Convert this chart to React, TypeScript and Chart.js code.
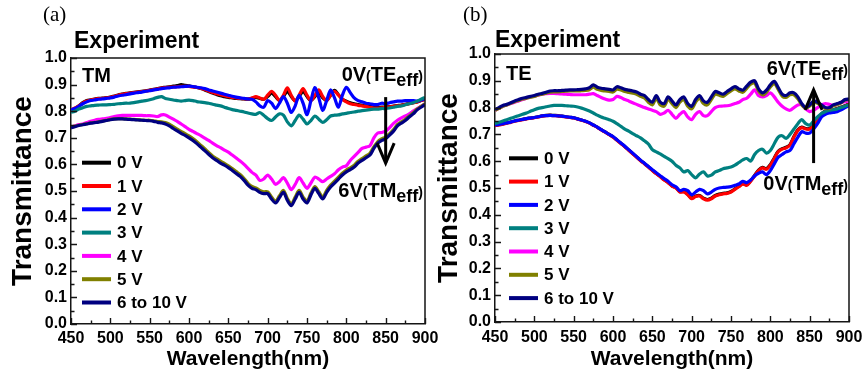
import React, { useEffect, useRef } from 'react';
import { Chart, registerables } from 'chart.js';

Chart.register(...registerables);

const FONT = '"Liberation Sans", Arial, sans-serif';
const SERIF = '"Liberation Serif", "Times New Roman", serif';

// ---------- data ----------
const WAVELENGTH = [
  450, 455, 460, 465, 470, 475, 480, 485, 490, 495,
  500, 505, 510, 515, 520, 525, 530, 535, 540, 545,
  550, 555, 560, 565, 570, 575, 580, 585, 590, 595,
  600, 605, 610, 615, 620, 625, 630, 635, 640, 645,
  650, 655, 660, 665, 670, 675, 680, 685, 690, 695,
  700, 705, 710, 715, 720, 725, 730, 735, 740, 745,
  750, 755, 760, 765, 770, 775, 780, 785, 790, 795,
  800, 805, 810, 815, 820, 825, 830, 835, 840, 845,
  850, 855, 860, 865, 870, 875, 880, 885, 890, 895,
  900,
];

const SERIES_LABELS = ['0 V', '1 V', '2 V', '3 V', '4 V', '5 V', '6 to 10 V'];
const SERIES_COLORS = ['#000000', '#ff0000', '#0000ff', '#008080', '#ff00ff', '#808000', '#000080'];

// Panel (a) TM
const TM_0V = [
  0.8, 0.81, 0.82, 0.832, 0.84, 0.843, 0.846, 0.848, 0.849, 0.851,
  0.853, 0.857, 0.861, 0.864, 0.867, 0.869, 0.871, 0.873, 0.875, 0.877,
  0.879, 0.882, 0.885, 0.888, 0.89, 0.892, 0.894, 0.896, 0.9, 0.897,
  0.895, 0.892, 0.889, 0.885, 0.88, 0.874, 0.868, 0.863, 0.858, 0.855,
  0.852, 0.85, 0.848, 0.847, 0.846, 0.845, 0.848, 0.852, 0.848, 0.845,
  0.855, 0.868, 0.855, 0.84, 0.855, 0.875, 0.855, 0.84, 0.855, 0.875,
  0.855, 0.84, 0.855, 0.87, 0.85, 0.84, 0.86, 0.878, 0.862, 0.845,
  0.838, 0.832, 0.828, 0.825, 0.822, 0.82, 0.818, 0.816, 0.815, 0.815,
  0.816, 0.817, 0.819, 0.821, 0.823, 0.826, 0.829, 0.832, 0.835, 0.84,
  0.844,
];
const TM_1V = [
  0.805, 0.812, 0.82, 0.83, 0.838, 0.842, 0.845, 0.847, 0.848, 0.85,
  0.852, 0.856, 0.86, 0.863, 0.866, 0.868, 0.87, 0.872, 0.874, 0.876,
  0.878, 0.881, 0.884, 0.887, 0.889, 0.89, 0.891, 0.892, 0.893, 0.893,
  0.893, 0.891, 0.889, 0.886, 0.882, 0.876, 0.87, 0.866, 0.862, 0.858,
  0.855, 0.852, 0.85, 0.848, 0.847, 0.846, 0.85, 0.855, 0.85, 0.845,
  0.86, 0.875, 0.86, 0.84, 0.86, 0.888, 0.86, 0.838, 0.86, 0.885,
  0.86, 0.84, 0.86, 0.88, 0.855, 0.84, 0.86, 0.875, 0.86, 0.845,
  0.835, 0.828, 0.825, 0.822, 0.82, 0.818, 0.815, 0.812, 0.812, 0.813,
  0.815, 0.816, 0.818, 0.82, 0.822, 0.825, 0.828, 0.832, 0.835, 0.84,
  0.845,
];
const TM_2V = [
  0.805, 0.81, 0.818, 0.828, 0.835, 0.84, 0.842, 0.845, 0.846, 0.848,
  0.85, 0.853, 0.857, 0.86, 0.862, 0.865, 0.868, 0.87, 0.872, 0.875,
  0.877, 0.88, 0.882, 0.885, 0.887, 0.888, 0.89, 0.891, 0.892, 0.893,
  0.894, 0.893, 0.89, 0.888, 0.885, 0.88, 0.876, 0.872, 0.868, 0.864,
  0.86, 0.856, 0.853, 0.85, 0.848, 0.846, 0.845, 0.835, 0.82, 0.815,
  0.84, 0.83, 0.81, 0.83, 0.855, 0.83, 0.795, 0.82, 0.86, 0.83,
  0.787, 0.84, 0.889, 0.85, 0.803, 0.84, 0.88, 0.85, 0.815, 0.86,
  0.89, 0.87, 0.85, 0.84, 0.835, 0.83, 0.828, 0.825, 0.825, 0.83,
  0.828, 0.832, 0.835, 0.838, 0.838, 0.84, 0.84, 0.84, 0.838, 0.842,
  0.848,
];
const TM_3V = [
  0.796, 0.8, 0.808, 0.813, 0.818, 0.82, 0.822, 0.823, 0.824, 0.824,
  0.825, 0.826, 0.828, 0.829, 0.83, 0.83, 0.832, 0.835, 0.838, 0.84,
  0.843, 0.847, 0.852, 0.855, 0.848, 0.845, 0.842, 0.84, 0.838, 0.84,
  0.842, 0.84, 0.836, 0.834, 0.832, 0.83, 0.826, 0.823, 0.82, 0.815,
  0.81, 0.806, 0.803, 0.8, 0.797, 0.793, 0.79, 0.788, 0.795, 0.785,
  0.772, 0.765, 0.778, 0.79, 0.785, 0.76, 0.745, 0.765, 0.785, 0.77,
  0.752, 0.765, 0.782, 0.77, 0.758, 0.768, 0.782, 0.785, 0.786, 0.79,
  0.792, 0.795, 0.797, 0.8, 0.802, 0.804, 0.806, 0.808, 0.808, 0.81,
  0.81, 0.812, 0.815, 0.818, 0.82, 0.824, 0.828, 0.832, 0.838, 0.845,
  0.852,
];
const TM_4V = [
  0.74, 0.745, 0.75, 0.752, 0.757, 0.762, 0.766, 0.769, 0.771, 0.773,
  0.776, 0.78, 0.783, 0.784, 0.784, 0.784, 0.784, 0.784, 0.784, 0.783,
  0.783, 0.782, 0.78, 0.786, 0.786, 0.778, 0.77, 0.762, 0.752, 0.742,
  0.732, 0.724, 0.716, 0.708, 0.699, 0.69, 0.68, 0.671, 0.663, 0.654,
  0.646, 0.635, 0.624, 0.613, 0.6, 0.585, 0.57, 0.56, 0.54, 0.545,
  0.56, 0.545, 0.525, 0.535, 0.55, 0.53, 0.505, 0.525, 0.55, 0.53,
  0.51, 0.53, 0.552, 0.545, 0.535, 0.545, 0.555, 0.565, 0.58, 0.59,
  0.595, 0.615, 0.63, 0.645, 0.66, 0.665, 0.67, 0.7, 0.718, 0.72,
  0.725, 0.738, 0.754, 0.766, 0.775, 0.782, 0.79, 0.8, 0.81, 0.818,
  0.828,
];
const TM_5V = [
  0.738, 0.743, 0.747, 0.75, 0.753, 0.756, 0.758, 0.76, 0.763, 0.766,
  0.769, 0.771, 0.772, 0.772, 0.771, 0.77, 0.769, 0.768, 0.767, 0.766,
  0.766, 0.764, 0.761, 0.76, 0.757, 0.751, 0.742, 0.733, 0.724, 0.716,
  0.707, 0.697, 0.685, 0.672, 0.659, 0.645, 0.632, 0.622, 0.612, 0.604,
  0.595, 0.584, 0.573, 0.562, 0.547, 0.529, 0.517, 0.512, 0.502, 0.497,
  0.497, 0.477, 0.462, 0.482, 0.502, 0.472, 0.452, 0.477, 0.502, 0.477,
  0.462, 0.492, 0.517, 0.497, 0.477, 0.502, 0.522, 0.537, 0.552, 0.567,
  0.579, 0.587, 0.597, 0.612, 0.622, 0.632, 0.642, 0.666, 0.686, 0.696,
  0.703, 0.716, 0.731, 0.75, 0.76, 0.77, 0.782, 0.794, 0.808, 0.818,
  0.828,
];
const TM_6V = [
  0.737, 0.742, 0.746, 0.749, 0.752, 0.755, 0.757, 0.759, 0.762, 0.765,
  0.768, 0.77, 0.771, 0.771, 0.77, 0.769, 0.768, 0.767, 0.766, 0.765,
  0.764, 0.762, 0.758, 0.756, 0.752, 0.745, 0.735, 0.726, 0.717, 0.709,
  0.7, 0.69, 0.678, 0.665, 0.652, 0.638, 0.625, 0.615, 0.605, 0.597,
  0.588, 0.577, 0.566, 0.555, 0.54, 0.522, 0.51, 0.505, 0.495, 0.49,
  0.49, 0.47, 0.455, 0.475, 0.495, 0.465, 0.445, 0.47, 0.495, 0.47,
  0.455, 0.485, 0.51, 0.49, 0.47, 0.495, 0.515, 0.53, 0.545, 0.56,
  0.572, 0.58, 0.59, 0.605, 0.615, 0.625, 0.635, 0.66, 0.68, 0.69,
  0.697, 0.71, 0.725, 0.745, 0.755, 0.765, 0.778, 0.79, 0.805, 0.815,
  0.825,
];

// Panel (b) TE
const TE_0V = [
  0.734, 0.736, 0.739, 0.743, 0.746, 0.75, 0.753, 0.756, 0.759, 0.761,
  0.763, 0.766, 0.769, 0.771, 0.772, 0.771, 0.77, 0.768, 0.766, 0.764,
  0.762, 0.758, 0.754, 0.749, 0.743, 0.735, 0.727, 0.718, 0.709, 0.7,
  0.691, 0.679, 0.667, 0.655, 0.642, 0.629, 0.616, 0.603, 0.591, 0.579,
  0.566, 0.554, 0.543, 0.531, 0.521, 0.508, 0.501, 0.487, 0.487, 0.477,
  0.462, 0.47, 0.472, 0.462, 0.457, 0.462, 0.472, 0.477, 0.48, 0.482,
  0.487, 0.497, 0.507, 0.517, 0.512, 0.527, 0.547, 0.567, 0.577, 0.572,
  0.587, 0.612, 0.637, 0.647, 0.652, 0.662, 0.692, 0.717, 0.727, 0.722,
  0.722, 0.737, 0.757, 0.777, 0.787, 0.787, 0.792, 0.797, 0.802, 0.807,
  0.814,
];
const TE_1V = [
  0.733, 0.735, 0.738, 0.742, 0.745, 0.749, 0.752, 0.755, 0.758, 0.76,
  0.762, 0.765, 0.768, 0.77, 0.771, 0.77, 0.769, 0.767, 0.765, 0.763,
  0.761, 0.757, 0.753, 0.748, 0.742, 0.734, 0.726, 0.717, 0.708, 0.699,
  0.69, 0.678, 0.666, 0.654, 0.641, 0.628, 0.615, 0.602, 0.59, 0.578,
  0.565, 0.553, 0.542, 0.53, 0.52, 0.507, 0.5, 0.485, 0.485, 0.475,
  0.46, 0.468, 0.47, 0.46, 0.455, 0.46, 0.47, 0.475, 0.478, 0.48,
  0.485, 0.495, 0.505, 0.515, 0.51, 0.525, 0.545, 0.565, 0.575, 0.57,
  0.585, 0.61, 0.635, 0.645, 0.65, 0.66, 0.69, 0.715, 0.725, 0.72,
  0.72, 0.735, 0.755, 0.775, 0.785, 0.785, 0.79, 0.795, 0.8, 0.805,
  0.812,
];
const TE_2V = [
  0.735, 0.737, 0.74, 0.743, 0.746, 0.75, 0.753, 0.756, 0.759, 0.761,
  0.763, 0.766, 0.769, 0.77, 0.771, 0.77, 0.769, 0.768, 0.766, 0.764,
  0.762, 0.758, 0.754, 0.749, 0.743, 0.735, 0.727, 0.718, 0.709, 0.7,
  0.692, 0.68, 0.668, 0.656, 0.643, 0.63, 0.617, 0.604, 0.592, 0.58,
  0.568, 0.557, 0.546, 0.535, 0.525, 0.512, 0.505, 0.49, 0.495, 0.49,
  0.475, 0.485, 0.495, 0.49, 0.478, 0.485, 0.495, 0.5, 0.502, 0.503,
  0.505, 0.51, 0.515, 0.525, 0.52, 0.53, 0.545, 0.555, 0.56, 0.55,
  0.565, 0.59, 0.615, 0.625, 0.635, 0.64, 0.665, 0.69, 0.71, 0.705,
  0.705, 0.72, 0.74, 0.765, 0.775, 0.78, 0.782, 0.785, 0.792, 0.8,
  0.808,
];
const TE_3V = [
  0.74, 0.745, 0.75, 0.755, 0.76, 0.765, 0.77, 0.775, 0.78, 0.786,
  0.792, 0.797, 0.8, 0.803, 0.806, 0.808, 0.808, 0.808, 0.807, 0.806,
  0.805, 0.802, 0.798, 0.793, 0.787, 0.78, 0.772, 0.765, 0.76, 0.755,
  0.749, 0.74, 0.73, 0.72, 0.712, 0.703, 0.695, 0.687, 0.676, 0.664,
  0.643, 0.635, 0.627, 0.618, 0.61, 0.6, 0.585, 0.575, 0.56, 0.565,
  0.55, 0.538, 0.552, 0.56, 0.545, 0.548, 0.56, 0.565, 0.572, 0.575,
  0.578, 0.585, 0.595, 0.605, 0.61, 0.6, 0.625, 0.64, 0.645, 0.63,
  0.64, 0.665, 0.69, 0.695, 0.685, 0.7, 0.72, 0.74, 0.755, 0.74,
  0.735, 0.75, 0.765, 0.778, 0.785, 0.79, 0.792, 0.795, 0.8, 0.805,
  0.81,
];
const TE_4V = [
  0.79, 0.797, 0.805, 0.81, 0.815, 0.82, 0.825, 0.83, 0.835, 0.84,
  0.843, 0.846, 0.85, 0.852, 0.853, 0.853, 0.852, 0.851, 0.85, 0.849,
  0.848, 0.848, 0.848, 0.848, 0.85, 0.852, 0.845, 0.838, 0.832, 0.828,
  0.83, 0.842, 0.838, 0.83, 0.825, 0.818, 0.812, 0.806, 0.8, 0.795,
  0.79, 0.785, 0.775, 0.78, 0.79, 0.775, 0.76, 0.775, 0.785, 0.765,
  0.755, 0.775, 0.785, 0.77, 0.77, 0.785, 0.8, 0.805, 0.806, 0.807,
  0.81, 0.815, 0.82, 0.83, 0.835, 0.85, 0.866, 0.845, 0.84, 0.845,
  0.855, 0.84, 0.82, 0.805, 0.795, 0.79, 0.8, 0.81, 0.81, 0.795,
  0.785, 0.79, 0.8, 0.81, 0.815, 0.812, 0.808, 0.812, 0.818, 0.822,
  0.825,
];
const TE_5V = [
  0.79, 0.797, 0.805, 0.81, 0.816, 0.822, 0.827, 0.832, 0.835, 0.839,
  0.842, 0.847, 0.85, 0.854, 0.858, 0.859, 0.859, 0.86, 0.861, 0.862,
  0.862, 0.862, 0.863, 0.864, 0.867, 0.876, 0.868, 0.864, 0.862, 0.86,
  0.858, 0.869, 0.866, 0.86, 0.857, 0.854, 0.85, 0.842, 0.836, 0.82,
  0.81, 0.835, 0.81, 0.805, 0.83, 0.815, 0.8, 0.82, 0.83, 0.805,
  0.795, 0.82, 0.835, 0.815, 0.81, 0.83, 0.85, 0.846, 0.842, 0.852,
  0.862, 0.87, 0.862, 0.857, 0.872, 0.887, 0.892, 0.862, 0.847, 0.857,
  0.877, 0.89, 0.868, 0.843, 0.838, 0.848, 0.848, 0.833, 0.81, 0.797,
  0.806, 0.82, 0.816, 0.806, 0.797, 0.797, 0.807, 0.812, 0.818, 0.828,
  0.83,
];
const TE_6V = [
  0.793, 0.8, 0.808, 0.812, 0.818, 0.825, 0.83, 0.835, 0.838, 0.842,
  0.845, 0.85, 0.853, 0.857, 0.862, 0.863, 0.863, 0.864, 0.865, 0.866,
  0.866, 0.867, 0.868, 0.87, 0.874, 0.885, 0.876, 0.872, 0.87, 0.868,
  0.866, 0.878, 0.874, 0.868, 0.865, 0.862, 0.858, 0.85, 0.845, 0.83,
  0.82, 0.845, 0.82, 0.815, 0.84, 0.825, 0.81, 0.83, 0.84, 0.815,
  0.805, 0.83, 0.845, 0.825, 0.82, 0.84, 0.86, 0.855, 0.85, 0.86,
  0.87, 0.878, 0.87, 0.865, 0.88, 0.895, 0.9, 0.87, 0.855, 0.865,
  0.885, 0.898, 0.875, 0.85, 0.845, 0.855, 0.855, 0.84, 0.815, 0.8,
  0.81, 0.825, 0.82, 0.81, 0.8, 0.8, 0.81, 0.815, 0.82, 0.83,
  0.832,
];

const X_TICK_STEP = 25;
const X_LABEL_STEP = 50;
const Y_TICK_STEP = 0.05;

// ---------- panel settings (layout & styling only) ----------
const PANELS = [
  {
    letter: '(a)',
    mode: 'TM',
    series: [TM_0V, TM_1V, TM_2V, TM_3V, TM_4V, TM_5V, TM_6V],
    canvasLeft: 0,
    canvasWidth: 445,
    area: { left: 71, top: 58, rightPad: 20, xAxisH: 52 },
    yTitlePad: 6.2,
    xTickPad: 5,
    letterX: 43,
    expDx: 3,
    expBase: 48,
    modeDx: 11,
    modeDy: 23.7,
    legendDx: 11,
    legendFirst: 161.3,
    textRight: 2,
    topNote: { lead: '0V', tag: 'TE', y: 0.913 },
    bottomNote: { lead: '6V', tag: 'TM', y: 0.477 },
    arrow: { x: 850, from: 0.853, to: 0.605 },
  },
  {
    letter: '(b)',
    mode: 'TE',
    series: [TE_0V, TE_1V, TE_2V, TE_3V, TE_4V, TE_5V, TE_6V],
    canvasLeft: 431,
    canvasWidth: 431,
    area: { left: 64, top: 54, rightPad: 13, xAxisH: 54 },
    yTitlePad: 1.2,
    xTickPad: 5.5,
    letterX: 32,
    expDx: 0,
    expBase: 47,
    modeDx: 11,
    modeDy: 26,
    legendDx: 14,
    legendFirst: 163.7,
    textRight: 1,
    topNote: { lead: '6V', tag: 'TE', y: 0.9226 },
    bottomNote: { lead: '0V', tag: 'TM', y: 0.4925 },
    arrow: { x: 855, from: 0.593, to: 0.866 },
  },
];

const LEGEND_ROW = 23.3;
const LEGEND_LINE_W = 29;
const LEGEND_TEXT_GAP = 6;
const MAJOR_TICK = 6;
const MINOR_TICK = 3.5;

type Part = { t: string; size: number; dy: number };

function drawRich(ctx: CanvasRenderingContext2D, parts: Part[], rightX: number, base: number) {
  const widths = parts.map((p) => {
    ctx.font = `bold ${p.size}px ${FONT}`;
    return ctx.measureText(p.t).width;
  });
  let x = rightX - widths.reduce((a, b) => a + b, 0);
  parts.forEach((p, i) => {
    ctx.font = `bold ${p.size}px ${FONT}`;
    ctx.fillText(p.t, x, base + p.dy);
    x += widths[i];
  });
}

function noteParts(lead: string, tag: string): Part[] {
  return [
    { t: lead, size: 20, dy: 0 },
    { t: '(', size: 14, dy: 0 },
    { t: tag, size: 20, dy: 0 },
    { t: 'eff', size: 18, dy: 5 },
    { t: ')', size: 14, dy: 0 },
  ];
}

function makeChart(canvas: HTMLCanvasElement, p: any) {
  const FRAME = '#151515';
  const decorPlugin = {
    id: 'decor',
    afterDraw(chart: any) {
      const ctx: CanvasRenderingContext2D = chart.ctx;
      const a = chart.chartArea;
      const xs = chart.scales.x;
      const ys = chart.scales.y;
      ctx.save();
      // frame (top / right)
      ctx.strokeStyle = FRAME;
      ctx.lineWidth = 1.5;
      ctx.beginPath();
      ctx.moveTo(a.left, a.top);
      ctx.lineTo(a.right, a.top);
      ctx.lineTo(a.right, a.bottom);
      ctx.stroke();

      // inward tick marks from the scales' own ticks
      ctx.lineWidth = 1.4;
      ctx.beginPath();
      xs.ticks.forEach((t: any) => {
        const px = Math.round(xs.getPixelForValue(t.value)) + 0.5;
        const len = Math.round(t.value) % X_LABEL_STEP === 0 ? MAJOR_TICK : MINOR_TICK;
        ctx.moveTo(px, a.bottom);
        ctx.lineTo(px, a.bottom - len);
      });
      ys.ticks.forEach((t: any) => {
        const py = Math.round(ys.getPixelForValue(t.value)) + 0.5;
        const len = Math.round(t.value * 100) % 10 === 0 ? MAJOR_TICK : MINOR_TICK;
        ctx.moveTo(a.left, py);
        ctx.lineTo(a.left + len, py);
      });
      ctx.stroke();

      ctx.fillStyle = '#000';
      ctx.textAlign = 'left';
      ctx.textBaseline = 'alphabetic';
      ctx.font = `21px ${SERIF}`;
      ctx.fillText(p.letter, p.letterX, 20.5);
      ctx.font = `bold 23px ${FONT}`;
      ctx.fillText('Experiment', a.left + p.expDx, p.expBase);
      ctx.font = `bold 20px ${FONT}`;
      ctx.fillText(p.mode, a.left + p.modeDx, a.top + p.modeDy);

      const rx = a.right - p.textRight;
      drawRich(ctx, noteParts(p.topNote.lead, p.topNote.tag), rx, ys.getPixelForValue(p.topNote.y));
      drawRich(ctx, noteParts(p.bottomNote.lead, p.bottomNote.tag), rx, ys.getPixelForValue(p.bottomNote.y));

      // arrow
      const ax = xs.getPixelForValue(p.arrow.x);
      const y1 = ys.getPixelForValue(p.arrow.from);
      const y2 = ys.getPixelForValue(p.arrow.to);
      const dir = y2 > y1 ? 1 : -1;
      ctx.strokeStyle = '#000';
      ctx.lineWidth = 3;
      ctx.lineJoin = 'miter';
      ctx.beginPath();
      ctx.moveTo(ax, y1);
      ctx.lineTo(ax, y2);
      ctx.stroke();
      ctx.beginPath();
      ctx.moveTo(ax - 8.5, y2 - dir * 20);
      ctx.lineTo(ax, y2);
      ctx.lineTo(ax + 8.5, y2 - dir * 20);
      ctx.stroke();

      // legend (inside plot, lower-left), built from the datasets
      ctx.font = `bold 17px ${FONT}`;
      ctx.textBaseline = 'middle';
      const lx = a.left + p.legendDx;
      const y0 = a.bottom - p.legendFirst;
      chart.data.datasets.forEach((ds: any, i: number) => {
        const cy = y0 + i * LEGEND_ROW;
        ctx.fillStyle = ds.borderColor;
        ctx.fillRect(lx, cy - 2, LEGEND_LINE_W, 4);
        ctx.fillStyle = '#000';
        ctx.fillText(ds.label, lx + LEGEND_LINE_W + LEGEND_TEXT_GAP, cy + 1);
      });
      ctx.restore();
    },
  };

  const tickFont = { family: FONT, size: 16, weight: 'bold' as const };

  return new Chart(canvas, {
    type: 'line',
    data: {
      datasets: p.series.map((vals: number[], i: number) => ({
        label: SERIES_LABELS[i],
        data: vals.map((v, j) => ({ x: WAVELENGTH[j], y: v })),
        borderColor: SERIES_COLORS[i],
        backgroundColor: SERIES_COLORS[i],
        borderWidth: 3.2,
        pointRadius: 0,
        tension: 0.3,
        order: -i,
      })),
    },
    options: {
      responsive: false,
      animation: false,
      devicePixelRatio: 1,
      events: [],
      layout: { padding: { left: 0, top: p.area.top, right: p.area.rightPad, bottom: 0 } },
      scales: {
        x: {
          type: 'linear',
          min: 450,
          max: 900,
          afterFit: (s: any) => {
            s.height = p.area.xAxisH;
            s.paddingLeft = 0;
            s.paddingRight = 0;
          },
          border: { display: true, color: FRAME, width: 1.5 },
          grid: { display: true, drawOnChartArea: false, drawTicks: false },
          ticks: {
            stepSize: X_TICK_STEP,
            maxTicksLimit: 40,
            autoSkip: false,
            maxRotation: 0,
            padding: p.xTickPad,
            color: '#000',
            font: tickFont,
            callback: (v: any) => (Math.round(v) % X_LABEL_STEP === 0 ? String(Math.round(v)) : ''),
          },
          title: {
            display: true,
            text: 'Wavelength(nm)',
            color: '#000',
            font: { family: FONT, size: 21, weight: 'bold' },
            padding: { top: 0, bottom: 4.4 },
          },
        },
        y: {
          min: 0,
          max: 1,
          afterFit: (s: any) => {
            s.width = p.area.left;
            s.paddingTop = 0;
            s.paddingBottom = 0;
          },
          border: { display: true, color: FRAME, width: 1.5 },
          grid: { display: true, drawOnChartArea: false, drawTicks: false },
          ticks: {
            stepSize: Y_TICK_STEP,
            maxTicksLimit: 40,
            autoSkip: false,
            padding: 4,
            color: '#000',
            font: tickFont,
            callback: (v: any) => {
              const r = Math.round(v * 100);
              return r % 10 === 0 ? (r / 100).toFixed(1) : '';
            },
          },
          title: {
            display: true,
            text: 'Transmittance',
            color: '#000',
            font: { family: FONT, size: 28, weight: 'bold' },
            padding: { top: p.yTitlePad, bottom: 0 },
          },
        },
      },
      plugins: {
        tooltip: { enabled: false },
        legend: { display: false },
      },
    },
    plugins: [decorPlugin],
  } as any);
}

export default function App() {
  const refA = useRef<HTMLCanvasElement | null>(null);
  const refB = useRef<HTMLCanvasElement | null>(null);

  useEffect(() => {
    const charts: Chart[] = [];
    if (refA.current) charts.push(makeChart(refA.current, PANELS[0]));
    if (refB.current) charts.push(makeChart(refB.current, PANELS[1]));
    return () => charts.forEach((c) => c.destroy());
  }, []);

  return (
    <div style={{ position: 'absolute', left: 0, top: 0, width: 862, height: 376, background: '#fff', overflow: 'hidden' }}>
      <canvas
        ref={refA}
        width={PANELS[0].canvasWidth}
        height={376}
        style={{ position: 'absolute', left: PANELS[0].canvasLeft, top: 0 }}
      />
      <canvas
        ref={refB}
        width={PANELS[1].canvasWidth}
        height={376}
        style={{ position: 'absolute', left: PANELS[1].canvasLeft, top: 0 }}
      />
    </div>
  );
}
